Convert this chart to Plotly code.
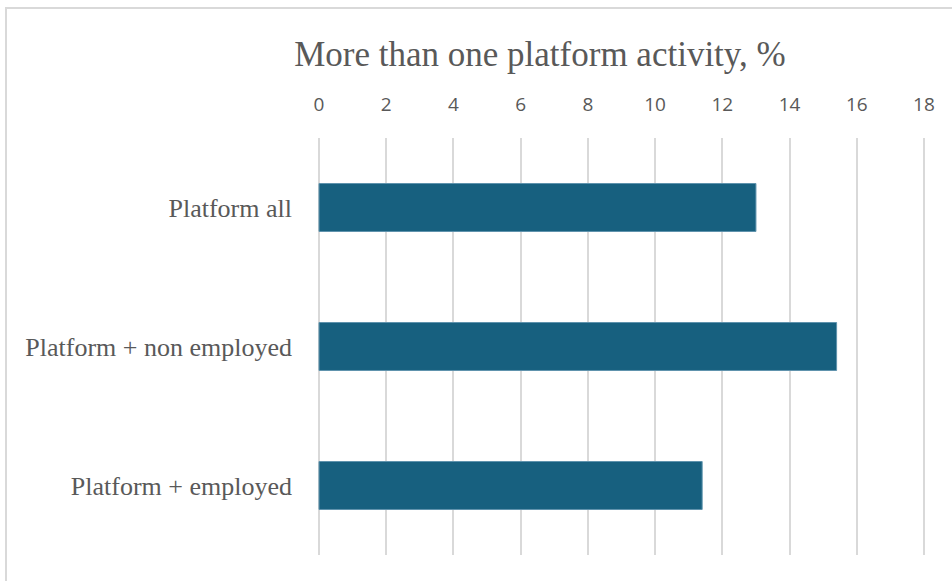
import plotly.graph_objects as go

# Share of platform workers with more than one platform activity
categories = ["Platform all", "Platform + non employed", "Platform + employed"]
values = [13.0, 15.4, 11.4]
tick_values = [0, 2, 4, 6, 8, 10, 12, 14, 16, 18]

TEXT = "#595959"
GRID = "#d9d9d9"
BAR = "#17607f"
SERIF = "Liberation Serif, Times New Roman, serif"
SANS = "Open Sans, Roboto, Arial, sans-serif"

X_MIN, X_MAX = -0.06, 18.06
LEFT, RIGHT, TOP, BOTTOM = 317, 26, 138, 26
plot_w = 952 - LEFT - RIGHT
plot_h = 581 - TOP - BOTTOM

fig = go.Figure(
    go.Bar(
        x=values,
        y=categories,
        orientation="h",
        marker=dict(color=BAR, line=dict(color="#5f93ad", width=1)),
        hoverinfo="x+y",
    )
)

fig.update_layout(
    width=952,
    height=581,
    margin=dict(l=LEFT, r=RIGHT, t=TOP, b=BOTTOM),
    paper_bgcolor="white",
    plot_bgcolor="white",
    bargap=0.655,
    showlegend=False,
    title=dict(
        text="More than one platform activity, %",
        x=540 / 952,
        xanchor="center",
        xref="container",
        y=1 - 54 / 581,
        yanchor="middle",
        yref="container",
        font=dict(family=SERIF, size=35, color=TEXT),
    ),
    xaxis=dict(
        side="top",
        range=[X_MIN, X_MAX],
        tickvals=tick_values,
        ticktext=[str(v) for v in tick_values],
        showgrid=True,
        gridcolor=GRID,
        gridwidth=1.5,
        zeroline=False,
        showline=False,
        ticks="",
        ticklabelstandoff=22,
        tickfont=dict(family=SANS, size=19, color=TEXT),
        fixedrange=True,
    ),
    yaxis=dict(
        categoryorder="array",
        categoryarray=categories,
        autorange="reversed",
        showgrid=False,
        zeroline=False,
        showline=False,
        ticks="",
        ticklabelstandoff=24,
        tickfont=dict(family=SERIF, size=26, color=TEXT),
        fixedrange=True,
    ),
)

# Light frame around the chart area
fig.add_shape(
    type="rect",
    xref="paper", yref="paper",
    x0=(6 - LEFT) / plot_w, x1=1.2,
    y0=-0.2, y1=1 + (TOP - 8) / plot_h,
    line=dict(color=GRID, width=2),
    fillcolor="rgba(0,0,0,0)",
    layer="below",
)

fig.write_html("out.html")
